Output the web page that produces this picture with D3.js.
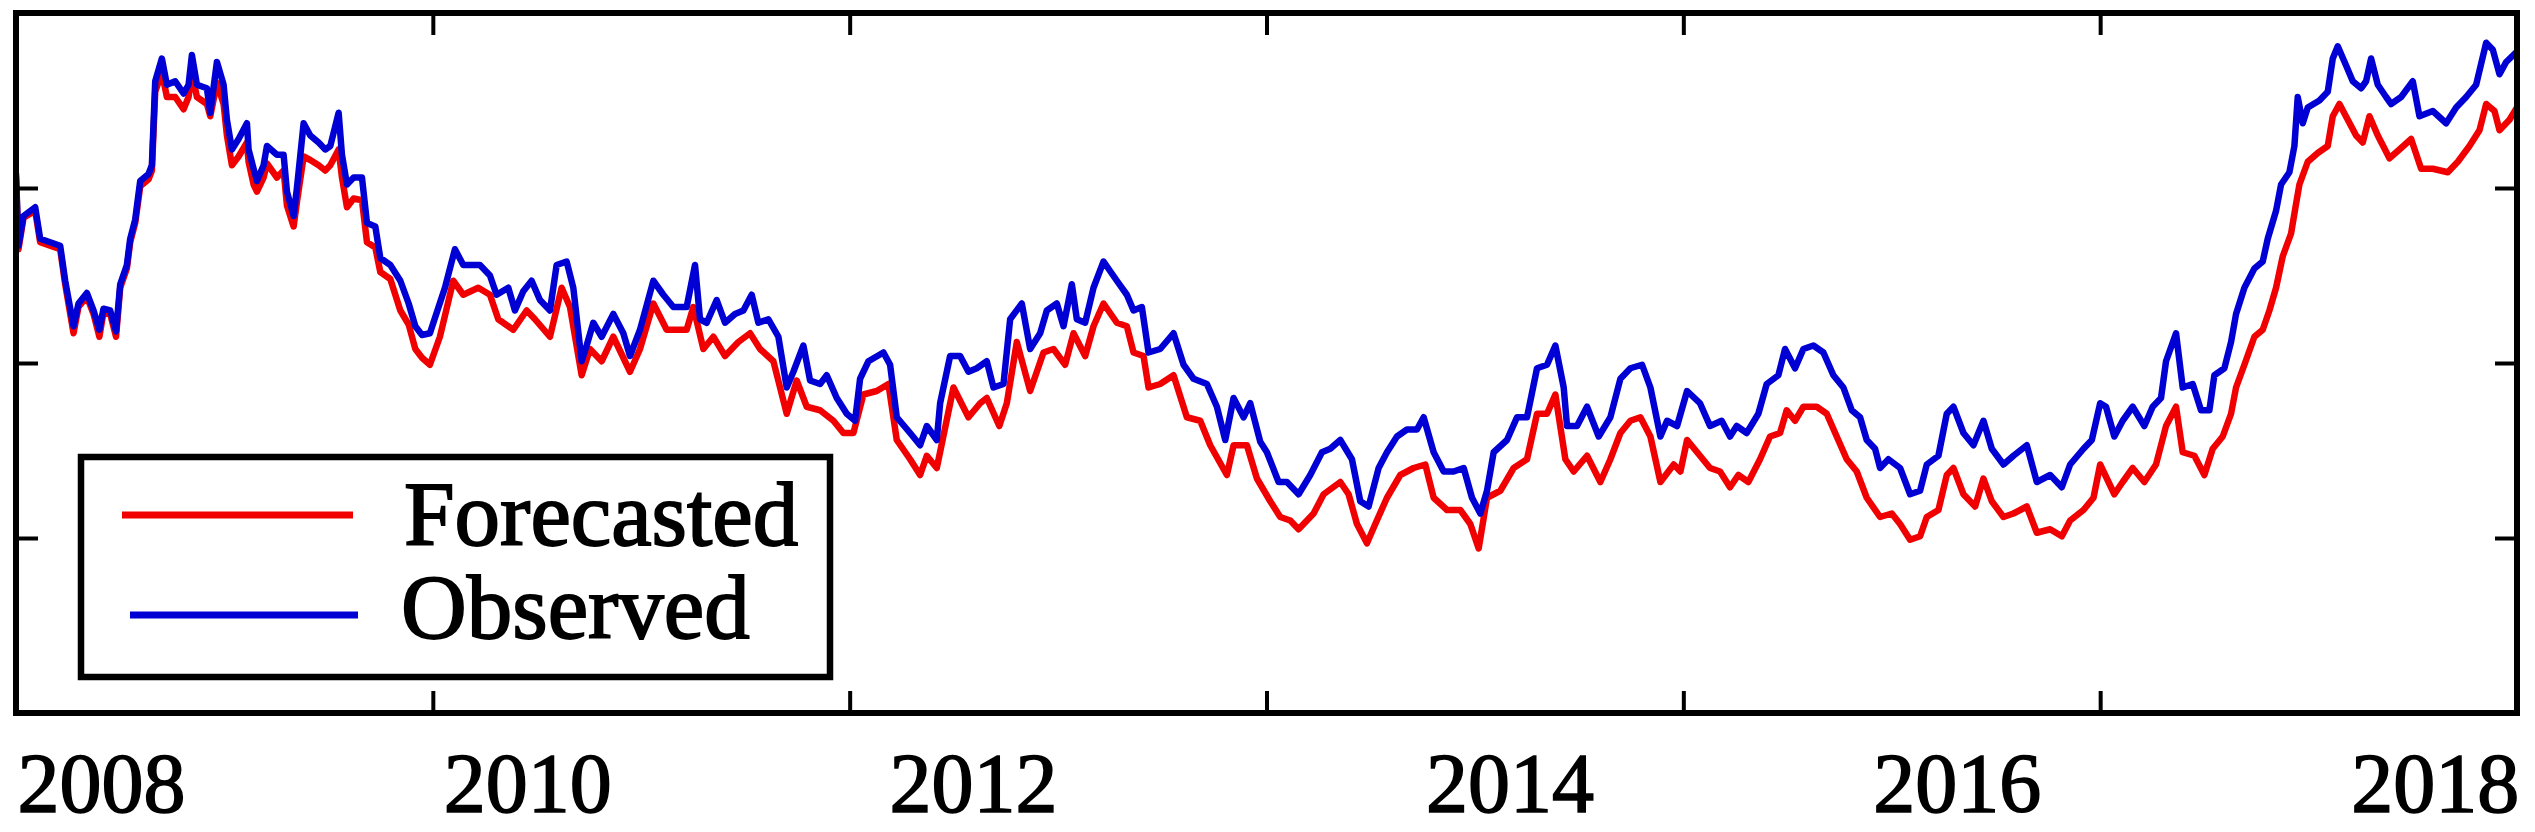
<!DOCTYPE html>
<html>
<head>
<meta charset="utf-8">
<script src="https://cdn.jsdelivr.net/npm/d3@7"></script>
<style>
  html, body { margin: 0; padding: 0; background: #ffffff; }
  svg { display: block; }
</style>
</head>
<body>
<svg id="chart" width="2535" height="832"></svg>
<script>
// ---- data (x: week index, y: value in axis units) ----
const observed = [[0,308],[0.6,267],[1.8,284],[4.6,289],[5.8,271],[8.2,269],[10.6,267],[11.8,247],[13.8,221],[15,234],[17,240],[18.6,230],[20,219],[21,231],[22.6,230],[24,218],[25,245],[26.6,256],[27.4,271],[28.6,282],[29.8,304],[31.8,308],[32.6,313],[33.4,361],[35,374],[36.2,359],[38.2,361],[40.2,354],[41.4,359],[42.2,376],[43.4,359],[45.8,357],[46.6,343],[48.2,372],[49.8,359],[50.6,339],[51.8,322],[53.4,328],[55.4,337],[55.8,322],[57,311],[57.8,304],[59.4,313],[60.2,324],[62.6,319],[64.2,319],[65,298],[66.6,284],[67.4,300],[69,337],[70.6,330],[72.6,326],[74.2,322],[75.4,324],[77.4,343],[78.2,319],[79.4,302],[81,306],[83,306],[84.2,280],[86.2,278],[87.4,260],[89.8,256],[92.2,247],[94.2,234],[95.8,221],[97.4,216],[99.3,217],[102.9,243],[105.3,265],[107.3,256],[111.3,256],[113.7,250],[115.3,239],[118.1,243],[119.7,230],[121.7,241],[123.7,247],[125.7,236],[128.1,230],[129.7,256],[132.1,258],[133.7,243],[135.7,201],[136.9,210],[138.5,223],[140.5,215],[143.3,228],[145.7,217],[147.3,204],[149.7,219],[152.9,247],[155.3,239],[157.7,232],[160.9,232],[162.9,256],[164.1,225],[165.7,223],[168.1,236],[170.1,223],[172.5,228],[174.5,230],[176.5,239],[178.1,223],[180.5,225],[182.9,215],[184.9,186],[186.5,195],[188.9,210],[190.5,190],[192.9,188],[194.5,193],[196.9,180],[199.3,171],[201.3,167],[202.5,191],[204.5,201],[208.1,206],[209.7,199],[211.3,169],[214.5,160],[216.9,153],[218.5,164],[220.9,156],[221.7,177],[224.1,204],[226.5,204],[228.5,195],[230.5,197],[232.9,201],[234.5,186],[236.9,188],[238.5,225],[241.3,234],[243.3,208],[245.7,217],[247.3,230],[249.7,234],[251.3,221],[253.3,245],[254.5,225],[256.5,223],[258.5,243],[260.9,258],[264.1,247],[266.5,239],[268.1,230],[270.1,232],[271.7,206],[274.5,208],[277.7,217],[280.1,199],[282.5,191],[285.7,188],[288.1,175],[290.1,156],[292.1,180],[294.5,169],[296.1,177],[298.5,155],[300.1,149],[302.9,132],[304.9,132],[307.7,125],[310.5,136],[313.3,149],[315.3,151],[317.7,156],[320.5,145],[322.5,121],[324.5,118],[326.9,140],[328.9,149],[331.3,158],[333.7,162],[336.1,162],[337.7,169],[340.1,149],[342.5,138],[344.9,138],[347.3,140],[349.3,123],[351.3,114],[352.9,127],[354.5,149],[357.7,156],[360.1,169],[362.5,169],[364.9,197],[367.3,199],[369.3,210],[371.3,186],[372.1,164],[374.5,164],[376.9,175],[379.7,158],[382.5,169],[384.9,191],[387.3,197],[390.1,199],[392.1,186],[394.5,158],[396.1,167],[398.5,164],[400.9,184],[404,177],[406.4,164],[409.2,167],[411.2,158],[412.8,164],[415.2,160],[418,171],[420,188],[422.8,193],[424.4,208],[426.8,197],[428.8,208],[431.2,210],[433.6,206],[436,193],[438.4,186],[440.4,173],[442.4,169],[444,156],[446,151],[447.2,140],[449.2,145],[452,140],[454.4,125],[456.8,127],[458.4,142],[461.2,147],[463.2,171],[464.8,175],[467.2,160],[469.6,153],[472,167],[474,151],[476.8,142],[479.2,147],[482.4,153],[484.8,132],[488,136],[490.8,129],[492.8,142],[496,151],[498,156],[500,177],[501.4,175],[503.4,158],[505.4,167],[507.8,175],[510.6,164],[512.6,175],[514.6,180],[515.8,201],[518.2,217],[519.8,186],[522.2,188],[524.2,173],[526.2,173],[527.4,193],[529.8,197],[531.4,212],[532.6,228],[534.6,243],[537,254],[539,258],[540.2,271],[542.2,287],[543.4,302],[545.4,309],[546.6,324],[547.4,352],[548.6,337],[549.8,346],[552.6,350],[554.6,355],[555.8,374],[557,381],[559,370],[560.6,361],[562.6,357],[563.8,361],[565,374],[566.6,359],[568.6,352],[569.8,348],[572.2,352],[575,361],[576.6,341],[579.8,344],[583,337],[585.4,346],[587.8,352],[590.2,359],[592.6,383],[594.2,379],[595.8,365],[597.4,372],[600,378]];

const forecasted = [[0,306],[0.6,265],[1.8,283],[4.6,287],[5.8,269],[8.2,267],[10.6,265],[11.8,245],[13.8,217],[15,232],[17,238],[18.6,228],[20,215],[21,229],[22.6,228],[24,215],[25,243],[26.6,254],[27.4,269],[28.6,280],[29.8,301],[31.8,305],[32.6,310],[33.4,355],[35,366],[36.2,352],[38.2,352],[40.2,345],[41.4,352],[42.2,366],[43.4,352],[45.8,348],[46.6,341],[48.2,360],[49.8,348],[50.6,330],[51.8,313],[53.4,318],[55.4,326],[55.8,315],[57,302],[57.8,298],[59.4,306],[60.2,314],[62.6,306],[64.2,310],[65,290],[66.6,278],[67.4,292],[69,318],[70.6,316],[72.6,313],[74.2,310],[75.4,313],[77.4,322],[78.2,306],[79.4,289],[81,294],[83,293],[84.2,269],[86.2,266],[87.4,252],[89.8,248],[92.2,230],[94.2,222],[95.8,208],[97.4,203],[99.3,199],[101.7,215],[104.9,247],[107.3,239],[110.9,243],[113.7,239],[115.7,225],[119.3,219],[122.5,230],[124.5,225],[128.1,215],[130.9,243],[132.9,232],[135.7,193],[137.7,208],[140.5,201],[143.3,215],[147.3,195],[149.7,208],[152.9,234],[156.1,219],[160.9,219],[162.5,232],[164.9,208],[167.3,215],[170.1,204],[173.3,212],[176.1,217],[178.5,208],[181.7,201],[184.9,171],[187.3,190],[189.7,175],[192.9,173],[196.1,167],[198.5,160],[200.9,160],[203.3,182],[206.5,184],[209.3,188],[211.3,156],[214.5,145],[216.9,136],[218.5,147],[220.9,140],[224.9,186],[228.5,169],[231.3,177],[232.9,180],[235.9,164],[237.7,177],[240.1,212],[243.3,184],[246.5,206],[248.9,208],[251.7,199],[253.7,217],[256.5,204],[258.5,221],[260.9,234],[264.1,223],[266.5,221],[268.1,206],[270.5,204],[271.7,186],[274.5,188],[277.7,193],[280.9,169],[284.1,167],[286.5,153],[290.5,136],[292.1,153],[295.3,153],[297.7,134],[300.9,121],[303.3,112],[305.7,110],[307.7,105],[311.3,114],[313.7,125],[317.7,132],[319.7,125],[321.7,108],[324.1,97],[326.1,108],[328.9,123],[332.1,136],[335.3,140],[338.1,142],[340.1,123],[343.3,116],[346.5,116],[348.9,108],[350.9,94],[352.9,123],[356.1,127],[359.3,140],[362.5,145],[364.9,171],[367.3,171],[369.3,182],[371.7,145],[373.7,138],[376.9,147],[380.1,132],[382.5,145],[384.9,160],[387.3,167],[389.7,169],[392.1,158],[394.5,132],[397.7,142],[399.3,138],[400.9,156],[404,147],[406.4,140],[408.8,138],[411.2,129],[413.2,136],[415.6,132],[418.4,145],[420.8,158],[423.2,160],[424.8,173],[426.8,167],[428.8,175],[432,175],[434.4,171],[436.8,158],[439.2,145],[441.6,138],[444,123],[447.2,112],[450,114],[452,108],[454.4,99],[456.8,101],[458.4,112],[461.2,116],[463.2,136],[464.8,140],[467.2,125],[470,118],[472,134],[474,121],[476.8,112],[479.2,114],[482.4,118],[484.8,103],[488,105],[490.8,101],[492.8,110],[496,116],[498.4,123],[500,142],[503.4,125],[505.4,132],[507.8,140],[510.6,132],[513.4,142],[515.8,164],[518.2,175],[519.8,149],[522.6,147],[525,136],[527,151],[529.4,158],[531.4,171],[532.6,186],[534.6,199],[537,215],[539,219],[540.6,230],[542.2,243],[543.8,261],[545.8,274],[547,291],[547.8,302],[549.8,315],[552.2,320],[554.6,324],[555.8,341],[557.4,348],[559.4,339],[561.4,330],[563,326],[564.6,341],[566.6,330],[569.4,317],[571.8,322],[574.6,328],[577,311],[579.8,311],[583.4,309],[585.8,315],[588.6,324],[591,333],[592.6,348],[594.6,344],[595.8,333],[598.2,339],[600,346]];

const xDomain = [0, 600];
const yDomain = [0, 400];
const xTickValues = [100, 200, 300, 400, 500];
const yTickValues = [100, 200, 300];
const yearLabels = ["2008", "2010", "2012", "2014", "2016", "2018"];
const yearLabelAt = [20.5, 122.8, 229.7, 358.4, 465.7, 580.4];
const seriesNames = ["Forecasted", "Observed"];
const seriesColors = ["#f00000", "#0000d4"];

// ---- layout ----
const L = 16, R = 2517, T = 13, B = 713;
const svg = d3.select("#chart");
svg.append("rect").attr("width", 2535).attr("height", 832).attr("fill", "#fff");

const x = d3.scaleLinear().domain(xDomain).range([L, R]);
const y = d3.scaleLinear().domain(yDomain).range([B, T]);

svg.append("defs").append("clipPath").attr("id", "plotclip")
  .append("rect").attr("x", L).attr("y", T).attr("width", R - L).attr("height", B - T);

const line = d3.line().x(d => x(d[0])).y(d => y(d[1])).curve(d3.curveLinear);

const plot = svg.append("g").attr("clip-path", "url(#plotclip)");
[forecasted, observed].forEach((s, i) => {
  plot.append("path").datum(s)
    .attr("d", line)
    .attr("fill", "none")
    .attr("stroke", seriesColors[i])
    .attr("stroke-width", 6.5)
    .attr("stroke-linejoin", "round")
    .attr("stroke-linecap", "round");
});

// ---- axes (inward ticks, no labels) ----
function styleAxis(g) {
  g.select(".domain").remove();
  g.selectAll(".tick line").attr("stroke", "#000").attr("stroke-width", 4);
  g.selectAll(".tick text").remove();
}
const TK = 22;
svg.append("g").attr("transform", `translate(0,${B})`)
  .call(d3.axisBottom(x).tickValues(xTickValues).tickSize(-TK).tickFormat("")).call(styleAxis);
svg.append("g").attr("transform", `translate(0,${T})`)
  .call(d3.axisTop(x).tickValues(xTickValues).tickSize(-TK).tickFormat("")).call(styleAxis);
svg.append("g").attr("transform", `translate(${L},0)`)
  .call(d3.axisLeft(y).tickValues(yTickValues).tickSize(-TK).tickFormat("")).call(styleAxis);
svg.append("g").attr("transform", `translate(${R},0)`)
  .call(d3.axisRight(y).tickValues(yTickValues).tickSize(-TK).tickFormat("")).call(styleAxis);

// frame
svg.append("rect").attr("x", L).attr("y", T).attr("width", R - L).attr("height", B - T)
  .attr("fill", "none").attr("stroke", "#000").attr("stroke-width", 6);

const FONT = "'Liberation Serif', 'Times New Roman', serif";

// year labels
svg.append("g").selectAll("text").data(yearLabels).join("text")
  .attr("x", (d, i) => x(yearLabelAt[i]))
  .attr("y", 812)
  .attr("text-anchor", "middle")
  .attr("font-family", FONT)
  .attr("font-size", 84)
  .attr("fill", "#000")
  .attr("stroke", "#000").attr("stroke-width", 1.6)
  .text(d => d);

// legend
const lg = svg.append("g");
lg.append("rect").attr("x", 81).attr("y", 457).attr("width", 749).attr("height", 220)
  .attr("fill", "#fff").attr("stroke", "#000").attr("stroke-width", 6.5);
const legendRows = [
  {x1: 122, x2: 353, ly: 515, tx: 404, ty: 545},
  {x1: 130, x2: 358, ly: 615, tx: 401, ty: 638}
];
legendRows.forEach((r, i) => {
  lg.append("line").attr("x1", r.x1).attr("x2", r.x2).attr("y1", r.ly).attr("y2", r.ly)
    .attr("stroke", seriesColors[i]).attr("stroke-width", 7);
  lg.append("text").attr("x", r.tx).attr("y", r.ty)
    .attr("font-family", FONT)
    .attr("font-size", 91).attr("fill", "#000")
    .attr("stroke", "#000").attr("stroke-width", 1.8)
    .text(seriesNames[i]);
});
</script>
</body>
</html>
